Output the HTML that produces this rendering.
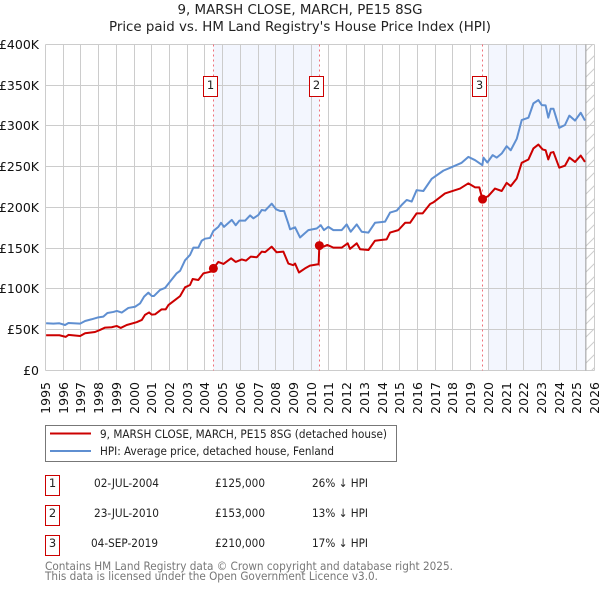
<!DOCTYPE html>
<html lang="en">
<head>
<meta charset="utf-8">
<title>9, MARSH CLOSE, MARCH, PE15 8SG</title>
<style>
html,body{margin:0;padding:0;background:#fff;width:600px;height:590px;overflow:hidden}
svg{display:block;font-family:"DejaVu Sans","Liberation Sans",sans-serif}
</style>
</head>
<body>
<svg id="chart" xmlns="http://www.w3.org/2000/svg" width="600" height="590" viewBox="0 0 600 590">
<defs>
<pattern id="hatch" patternUnits="userSpaceOnUse" width="13" height="13">
<line x1="0" y1="13" x2="13" y2="0" stroke="#cccccc" stroke-width="1"/>
</pattern>
<clipPath id="plot-clip"><rect x="45" y="44" width="550" height="327"/></clipPath>
</defs>
<text x="300" y="14" text-anchor="middle" font-size="13" fill="#222" textLength="245" lengthAdjust="spacingAndGlyphs">9, MARSH CLOSE, MARCH, PE15 8SG</text>
<text x="300" y="31" text-anchor="middle" font-size="13" fill="#222" textLength="382" lengthAdjust="spacingAndGlyphs">Price paid vs. HM Land Registry's House Price Index (HPI)</text>
<g id="plot"></g>

<g>
<rect x="45.5" y="425.5" width="351" height="36" fill="#fff" stroke="#777" stroke-width="1"/>
<line x1="50" y1="433.5" x2="91" y2="433.5" stroke="#cc0000" stroke-width="2"/>
<text x="100" y="438" font-size="11.5" fill="#222" textLength="287" lengthAdjust="spacingAndGlyphs">9, MARSH CLOSE, MARCH, PE15 8SG (detached house)</text>
<line x1="50" y1="451" x2="91" y2="451" stroke="#5f8fd1" stroke-width="2"/>
<text x="100" y="455" font-size="11.5" fill="#222" textLength="234" lengthAdjust="spacingAndGlyphs">HPI: Average price, detached house, Fenland</text>
</g>

<g font-size="11.5" fill="#222">
<g>
<rect x="45.5" y="475.5" width="14" height="20" fill="#fff" stroke="#cc0000"/>
<text x="52.5" y="487" text-anchor="middle">1</text>
<text x="94" y="487" textLength="65" lengthAdjust="spacingAndGlyphs">02-JUL-2004</text>
<text x="215" y="487" textLength="50" lengthAdjust="spacingAndGlyphs">£125,000</text>
<text x="312" y="487" textLength="56" lengthAdjust="spacingAndGlyphs">26% ↓ HPI</text>
</g>
<g>
<rect x="45.5" y="505.5" width="14" height="20" fill="#fff" stroke="#cc0000"/>
<text x="52.5" y="517" text-anchor="middle">2</text>
<text x="94" y="517" textLength="65" lengthAdjust="spacingAndGlyphs">23-JUL-2010</text>
<text x="215" y="517" textLength="50" lengthAdjust="spacingAndGlyphs">£153,000</text>
<text x="312" y="517" textLength="56" lengthAdjust="spacingAndGlyphs">13% ↓ HPI</text>
</g>
<g>
<rect x="45.5" y="535.5" width="14" height="20" fill="#fff" stroke="#cc0000"/>
<text x="52.5" y="547" text-anchor="middle">3</text>
<text x="91" y="547" textLength="67" lengthAdjust="spacingAndGlyphs">04-SEP-2019</text>
<text x="215" y="547" textLength="50" lengthAdjust="spacingAndGlyphs">£210,000</text>
<text x="312" y="547" textLength="56" lengthAdjust="spacingAndGlyphs">17% ↓ HPI</text>
</g>
</g>

<text x="45" y="570" font-size="11.5" fill="#777" textLength="408" lengthAdjust="spacingAndGlyphs">Contains HM Land Registry data © Crown copyright and database right 2025.</text>
<text x="45" y="580" font-size="11.5" fill="#777" textLength="333" lengthAdjust="spacingAndGlyphs">This data is licensed under the Open Government Licence v3.0.</text>
</svg>

<script>
const yTickValues = [0, 50, 100, 150, 200, 250, 300, 350, 400];
const yTickLabels = ["£0", "£50K", "£100K", "£150K", "£200K", "£250K", "£300K", "£350K", "£400K"];
const xTickYears = [1995,1996,1997,1998,1999,2000,2001,2002,2003,2004,2005,2006,2007,2008,2009,2010,2011,2012,2013,2014,2015,2016,2017,2018,2019,2020,2021,2022,2023,2024,2025,2026];

const hpiYears = [1995.04,1995.45,1995.79,1996.11,1996.30,1996.96,1997.24,1997.61,1997.99,1998.27,1998.50,1998.84,1999.03,1999.31,1999.68,2000.06,2000.34,2000.57,2000.81,2001.00,2001.13,2001.47,2001.75,2002.04,2002.41,2002.60,2002.88,2003.16,2003.35,2003.63,2003.82,2004.01,2004.29,2004.48,2004.76,2004.91,2005.08,2005.52,2005.74,2005.95,2006.27,2006.55,2006.74,2007.02,2007.21,2007.40,2007.77,2008.02,2008.24,2008.47,2008.71,2008.81,2009.09,2009.37,2009.84,2010.31,2010.54,2010.72,2010.97,2011.25,2011.72,2012.00,2012.23,2012.57,2012.85,2013.23,2013.60,2014.17,2014.45,2014.83,2015.11,2015.39,2015.67,2015.95,2016.33,2016.80,2017.46,2017.84,2018.49,2018.87,2019.25,2019.66,2019.72,2019.94,2020.24,2020.47,2020.75,2021.03,2021.26,2021.60,2021.88,2022.26,2022.54,2022.82,2023.01,2023.23,2023.38,2023.52,2023.67,2024.00,2024.32,2024.57,2024.89,2025.21,2025.45];
const hpiValues = [57.7,57.3,57.7,55.6,58,57.3,60.5,62.6,65,65.8,70.3,71.6,72.8,70.8,76.5,78,82,90.4,95.3,91.2,91.2,98.6,101,109,119,122,135,141.5,150.5,150.5,159,161.5,162.4,171,176,181,176,184.5,178,183.6,183.6,190,186.5,190.6,196.7,196,204.5,197.5,195.5,195.5,180,173,175.5,163,172,174,178,172,176,172,172,179,170,179,170,169,181,182.4,193.5,196,203,209,207,221,220,235,245,248.5,254.6,261.9,257.8,251.7,261,255,264,261,266,275,270,284,307,310,327.5,331.6,325.4,325,310,321,321,297.5,301,312.5,306.4,316,306.4];

const priceYears = [1995.04,1995.45,1995.79,1996.15,1996.30,1996.96,1997.24,1997.80,1998.08,1998.37,1998.74,1999.03,1999.25,1999.59,2000.15,2000.44,2000.62,2000.85,2001.00,2001.19,2001.56,2001.79,2001.94,2002.32,2002.60,2002.88,2003.16,2003.31,2003.63,2003.92,2004.33,2004.48,2004.76,2005.05,2005.48,2005.74,2006.08,2006.32,2006.59,2006.93,2007.21,2007.40,2007.77,2008.05,2008.43,2008.71,2008.99,2009.09,2009.31,2009.65,2009.93,2010.35,2010.42,2010.46,2010.69,2010.91,2011.25,2011.72,2012.06,2012.19,2012.57,2012.76,2013.23,2013.60,2014.26,2014.45,2014.92,2015.30,2015.58,2015.95,2016.29,2016.71,2016.89,2017.55,2018.40,2018.87,2019.25,2019.49,2019.66,2020.00,2020.37,2020.75,2021.03,2021.26,2021.60,2021.88,2022.26,2022.54,2022.82,2023.06,2023.23,2023.38,2023.52,2023.67,2024.00,2024.32,2024.57,2024.89,2025.21,2025.45];
const priceValues = [43,43,43,41,43.4,42.1,45.4,47,49.5,52.4,52.8,54.4,52,55.6,59,61.8,68,71,68.3,68.7,74.8,74.8,80,86.3,91,101.8,104.7,112,110.8,119,121,125,133,130.5,137.4,133,136,134.6,139.5,138.7,145.6,145,151.7,144.8,145.6,131,129,131,120,125,128.4,130,130,153,151.7,153.8,150.5,150.5,155.8,149,155.8,148.5,147.6,159,160.7,169,172,181,181,192.6,192.6,204,206,217,223,229.4,224.5,224.5,210,213.9,223,220,230,226,235.4,254.6,258.7,272.2,277,271,270,258.7,267,267.8,248.6,251,261,255.7,263.5,255.7];

const saleLabels = ["1", "2", "3"];
const saleYears = [2004.48, 2010.46, 2019.67];
const saleValues = [125, 153, 210];
const shadeStarts = [2004.48, 2020.0];
const shadeEnds = [2010.46, 2025.5];
const dataEndYear = 2025.5;
const axisEndYear = 2026;

const NS = "http://www.w3.org/2000/svg";
const plot = document.getElementById("plot");
function xScale(year) { return 45.4 + (year - 1995) * 17.72; }
function yScale(value) { return 370.3 - value * 0.815; }
function snap(p) { return Math.floor(p) + 0.5; }
function make(tag, attrs, parent) {
  const el = document.createElementNS(NS, tag);
  for (const k in attrs) el.setAttribute(k, attrs[k]);
  (parent || plot).appendChild(el);
  return el;
}
function pathFrom(xs, vs) {
  return xs.map((yr, i) => (i ? "L" : "M") + xScale(yr).toFixed(2) + " " + yScale(vs[i]).toFixed(2)).join(" ");
}

const xRight = snap(xScale(axisEndYear));
const yTop = snap(yScale(yTickValues[yTickValues.length - 1]));
const yBottom = snap(yScale(0));

shadeStarts.forEach((s, i) => {
  const r = make("rect", {x: xScale(s), y: yTop, width: xScale(shadeEnds[i]) - xScale(s), height: yBottom - yTop, fill: "#f3f6fe"});
  
  
});

const hatch = make("rect", {x: xScale(dataEndYear), y: yTop, width: xRight - xScale(dataEndYear), height: yBottom - yTop, fill: "url(#hatch)"});



xTickYears.forEach((yr) => {
  const px = snap(xScale(yr));
  const g = make("line", {x1: px, y1: yTop, x2: px, y2: yBottom, stroke: "#cccccc", "stroke-width": 1});
  
  
  const t = make("text", {x: 0, y: 0, transform: "translate(" + (px + 4.5) + " 382) rotate(-90)", "text-anchor": "end", "font-size": 12.5, fill: "#111"});
  t.textContent = yr;
  
  
});

yTickValues.forEach((v, i) => {
  const py = snap(yScale(v));
  const g = make("line", {x1: snap(xScale(1995)), y1: py, x2: xRight, y2: py, stroke: "#cccccc", "stroke-width": 1});
  
  
  const t = make("text", {x: 39, y: py + 4.5, "text-anchor": "end", "font-size": 12.5, fill: "#111"});
  t.textContent = yTickLabels[i];
  
  
});

const endLine = make("line", {x1: xScale(dataEndYear), y1: yTop, x2: xScale(dataEndYear), y2: yBottom, stroke: "#999999", "stroke-width": 1});



saleYears.forEach((yr) => {
  const px = snap(xScale(yr));
  const l = make("line", {x1: px, y1: yTop, x2: px, y2: yBottom, stroke: "#f0707a", "stroke-width": 1, "stroke-dasharray": "2 3"});
  
  
});

const hpiLine = make("path", {d: pathFrom(hpiYears, hpiValues), fill: "none", stroke: "#5f8fd1", "stroke-width": 2, "stroke-linejoin": "round", "clip-path": "url(#plot-clip)"});



const priceLine = make("path", {d: pathFrom(priceYears, priceValues), fill: "none", stroke: "#cc0000", "stroke-width": 2, "stroke-linejoin": "round", "clip-path": "url(#plot-clip)"});



saleYears.forEach((yr, i) => {
  const px = xScale(yr);
  const c = make("circle", {cx: px, cy: yScale(saleValues[i]), r: 4.5, fill: "#cc0000"});
  
  
  const box = make("rect", {x: snap(px - 10), y: 76.5, width: 14, height: 20, fill: "#fff", stroke: "#cc0000", "stroke-width": 1});
  
  
  const t = make("text", {x: snap(px - 10) + 7, y: 89, "text-anchor": "middle", "font-size": 11.5, fill: "#222"});
  t.textContent = saleLabels[i];
  
  
});
</script>
</body>
</html>
